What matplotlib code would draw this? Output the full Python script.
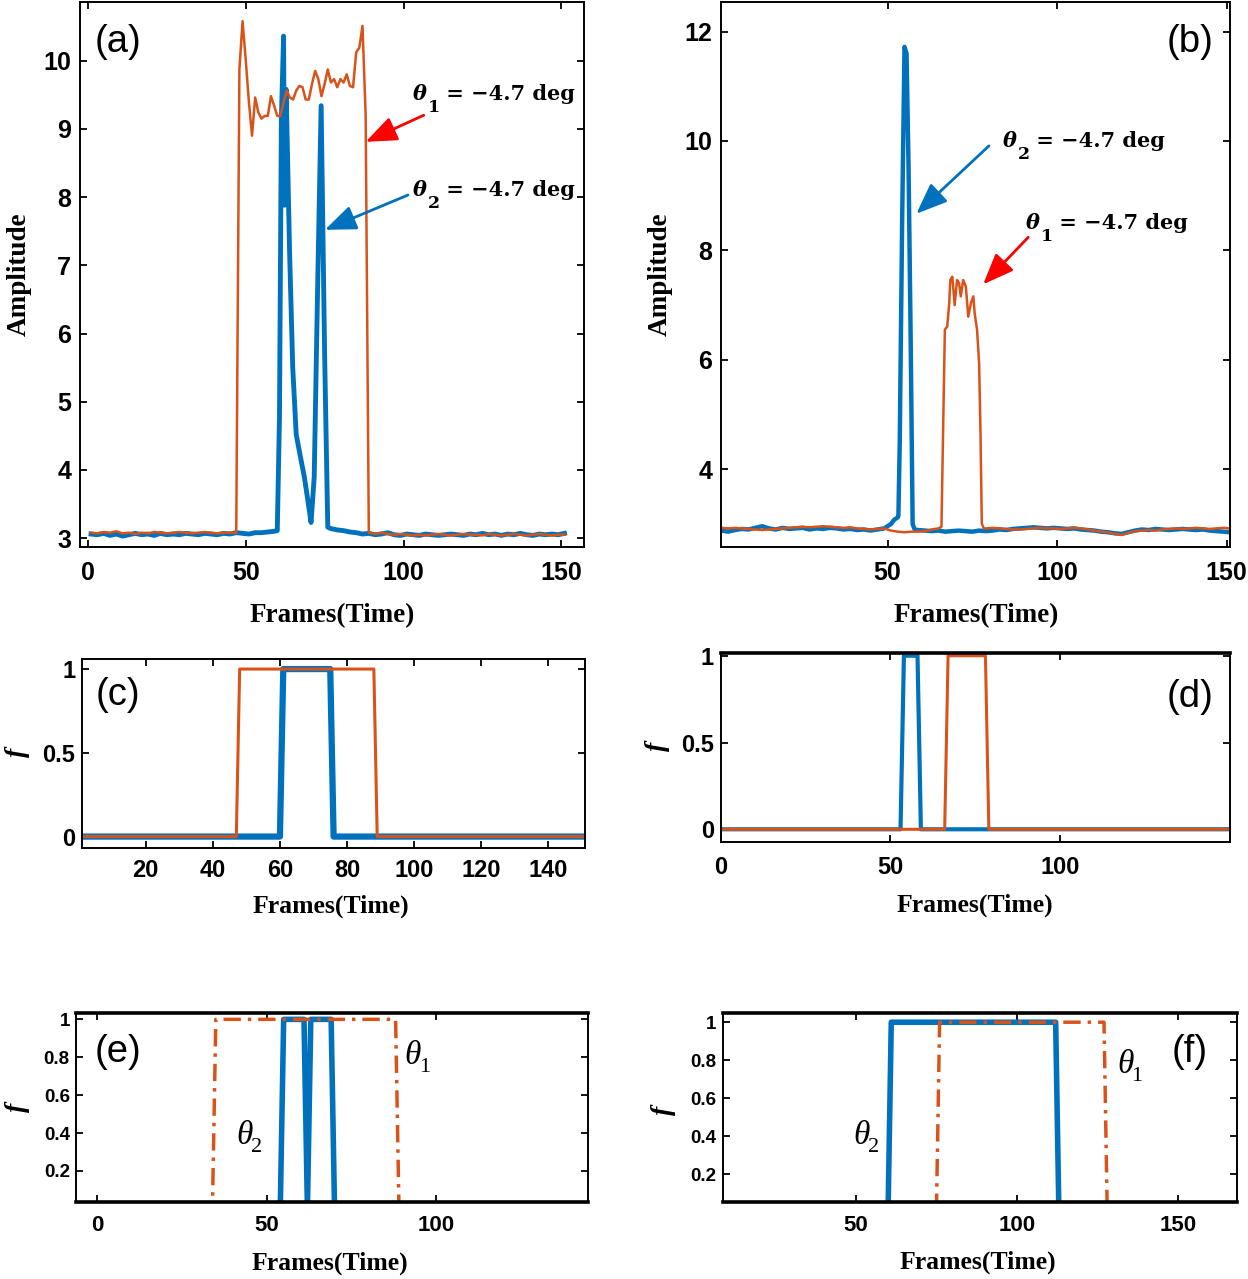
import matplotlib
matplotlib.use("Agg")
import matplotlib.pyplot as plt
from matplotlib.transforms import offset_copy

plt.rcParams.update({
    "font.family": ["Liberation Sans", "DejaVu Sans"],
    "font.weight": "bold",
})

BLUE = "#0072BD"
ORANGE = "#D95319"

# ---------------- data: panel (a) ----------------
a_blue_pre = [3.06, 3.05, 3.07, 3.04, 3.06, 3.03, 3.05, 3.07, 3.05, 3.06, 3.04, 3.07, 3.05, 3.06, 3.05,
              3.07, 3.06, 3.05, 3.07, 3.06, 3.05, 3.07, 3.06, 3.08, 3.07, 3.06, 3.08, 3.08, 3.09, 3.10]  # frames 1..59 step 2
a_blue_evt_x = [60, 60.7, 61.3, 62.0, 62.3, 62.8, 63.9, 64.9, 66.0, 67.3, 68.6, 69.7, 70.7, 71.7, 72.8, 73.9, 75.0, 76.0]
a_blue_evt_y = [3.11, 4.77, 9.15, 10.36, 7.88, 9.58, 7.20, 5.50, 4.52, 4.20, 3.89, 3.55, 3.23, 3.89, 6.71, 9.34, 5.70, 3.16]
a_blue_post = [3.14, 3.12, 3.11, 3.09, 3.08, 3.06, 3.07, 3.05, 3.06, 3.08, 3.05, 3.04, 3.06, 3.05, 3.04, 3.06,
               3.05, 3.04, 3.05, 3.06, 3.05, 3.04, 3.06, 3.05, 3.07, 3.05, 3.06, 3.04, 3.06, 3.05, 3.07, 3.05,
               3.04, 3.06, 3.05, 3.06, 3.05, 3.07]  # frames 77..151 step 2
a_orange_pre = [3.08, 3.07, 3.09, 3.08, 3.10, 3.07, 3.08, 3.06, 3.08, 3.07, 3.09, 3.08, 3.07, 3.08, 3.09,
                3.08, 3.07, 3.08, 3.09, 3.08, 3.07, 3.08, 3.08, 3.08]  # frames 1..47 step 2
a_orange_evt = [9.87, 10.58, 10.02, 9.40, 8.90, 9.46, 9.24, 9.15, 9.19, 9.19, 9.48, 9.34, 9.19, 9.19,
                9.39, 9.56, 9.46, 9.43, 9.56, 9.63, 9.61, 9.43, 9.43, 9.66, 9.85, 9.73, 9.48, 9.66,
                9.87, 9.68, 9.73, 9.61, 9.73, 9.68, 9.80, 9.63, 9.61, 10.12, 10.19, 10.51, 9.20, 3.08]  # frames 48..89
a_orange_post = [3.06, 3.08, 3.06, 3.05, 3.06, 3.05, 3.04, 3.05, 3.04, 3.05, 3.06, 3.05, 3.04, 3.05, 3.06,
                 3.05, 3.05, 3.04, 3.06, 3.05, 3.04, 3.05, 3.06, 3.05, 3.04, 3.05, 3.06, 3.05, 3.04, 3.05, 3.05]  # 91..151 step 2

# ---------------- data: panel (b) ----------------
b_blue_pre = [2.88, 2.86, 2.89, 2.91, 2.90, 2.93, 2.96, 2.92, 2.90, 2.93, 2.91, 2.92, 2.93, 2.90, 2.92,
              2.91, 2.93, 2.92, 2.90, 2.91, 2.89, 2.90, 2.88, 2.90, 2.92]  # frames 1..49 step 2
b_blue_evt_x = [51, 52, 53, 53.2, 53.6, 54.3, 55.0, 55.6, 56.2, 56.8, 57.4, 58.0]
b_blue_evt_y = [3.00, 3.08, 3.12, 3.15, 4.50, 8.50, 11.72, 11.60, 9.50, 6.50, 3.00, 2.90]
b_blue_post = [2.89, 2.88, 2.87, 2.88, 2.86, 2.87, 2.88, 2.87, 2.86, 2.88,
               2.87, 2.88, 2.90, 2.89, 2.91, 2.92, 2.93, 2.94, 2.93, 2.92, 2.93,
               2.92, 2.91, 2.92, 2.90, 2.89, 2.88, 2.86, 2.85, 2.83, 2.82, 2.85,
               2.88, 2.90, 2.89, 2.91, 2.90, 2.89, 2.90, 2.91, 2.90, 2.89, 2.90, 2.88, 2.87, 2.86, 2.85]  # 59..151 step 2
b_orange_pre = [2.93, 2.92, 2.93, 2.92, 2.91, 2.90, 2.89, 2.90, 2.91, 2.92,
                2.93, 2.94, 2.95, 2.94, 2.95, 2.96, 2.95, 2.94, 2.93, 2.94,
                2.92, 2.91, 2.90, 2.91, 2.92, 2.88, 2.86, 2.85, 2.86, 2.86, 2.87, 2.90, 2.92]  # frames 1..65 step 2
b_orange_evt_x = [65.9, 66.9, 67.6, 68.2, 68.5, 69.1, 69.8, 70.5, 71.1, 71.6, 72.3, 73.1, 73.8, 74.6,
                  75.3, 75.7, 76.4, 77.0, 77.4, 77.8, 78.4]
b_orange_evt_y = [2.95, 6.55, 6.61, 7.04, 7.46, 7.52, 7.00, 7.46, 7.40, 7.16, 7.46, 7.34, 6.79, 7.04,
                  7.16, 6.85, 6.55, 5.94, 4.72, 3.01, 2.92]
b_orange_post = [2.92, 2.93, 2.92, 2.91, 2.90, 2.90,
                 2.91, 2.92, 2.93, 2.92, 2.92, 2.91, 2.92, 2.93, 2.92, 2.90, 2.88,
                 2.86, 2.85, 2.82, 2.80, 2.84,
                 2.87, 2.88, 2.89, 2.88, 2.90, 2.91, 2.92, 2.91, 2.92, 2.93, 2.92, 2.91, 2.92, 2.93, 2.92]  # 79..151 step 2

# ---------------- data: panels (c)-(f), step flags ----------------
c_blue_x = [1, 60, 61, 75, 76, 151]
c_blue_y = [0, 0, 1, 1, 0, 0]
c_orange_x = [1, 47, 48, 88, 89, 151]
c_orange_y = [0, 0, 1, 1, 0, 0]

d_blue_x = [0, 53, 54, 58, 59, 150]
d_blue_y = [0, 0, 1, 1, 0, 0]
d_orange_x = [0, 66, 67, 78, 79, 150]
d_orange_y = [0, 0, 1, 1, 0, 0]

e_blue_x = [0, 54, 55, 61, 62, 63, 69, 70, 150]
e_blue_y = [0, 0, 1, 1, 0, 1, 1, 0, 0]
e_orange_x = [0, 34, 35, 88, 89, 150]
e_orange_y = [0, 0, 1, 1, 0, 0]

f_blue_x = [0, 60, 61, 112, 113, 168]
f_blue_y = [0, 0, 1, 1, 0, 0]
f_orange_x = [0, 75, 76, 127, 128, 168]
f_orange_y = [0, 0, 1, 1, 0, 0]

# ticks
a_xticks = [0, 50, 100, 150]
a_yticks = [3, 4, 5, 6, 7, 8, 9, 10]
b_xticks = [50, 100, 150]
b_yticks = [4, 6, 8, 10, 12]
c_xticks = [20, 40, 60, 80, 100, 120, 140]
cd_yticks = [0, 0.5, 1]
cd_yticklabels = ["0", "0.5", "1"]
d_xticks = [0, 50, 100]
e_xticks = [0, 50, 100]
f_xticks = [50, 100, 150]
ef_yticks = [0.2, 0.4, 0.6, 0.8, 1]
ef_yticklabels = ["0.2", "0.4", "0.6", "0.8", "1"]

angle_text = " = \u22124.7 deg"


def build(pre, start_pre, evt_x, evt_y, post, start_post, step=2):
    x = list(range(start_pre, start_pre + step * len(pre), step)) + list(evt_x) + \
        list(range(start_post, start_post + step * len(post), step))
    y = list(pre) + list(evt_y) + list(post)
    return x, y


W, H = 1248, 1279
fig = plt.figure(figsize=(W / 100, H / 100), dpi=100)
renderer = fig.canvas.get_renderer()


def add_axes(l, t, r, b):
    return fig.add_axes([l / W, 1 - b / H, (r - l) / W, (b - t) / H])


def style(ax, xt, yt, xsize, ysize, xpad, ypad, ylabels=None, spine_lw=1.4):
    ax.set_xticks(xt)
    ax.set_yticks(yt)
    if ylabels is not None:
        ax.set_yticklabels(ylabels)
    ax.tick_params(direction="in", top=True, right=True, length=5, width=1.3)
    ax.tick_params(axis="x", labelsize=xsize, pad=xpad)
    ax.tick_params(axis="y", labelsize=ysize, pad=ypad)
    for s in ax.spines.values():
        s.set_linewidth(spine_lw)


def ftext(x, y, s, **kw):
    fig.text(x / W, 1 - y / H, s, ha="center", va="center", **kw)


def theta_text(ax, x, y, sub, rest, size, subsize, drop_px, fam, weight, sub_dx=1.0, rest_dx=0.0):
    """theta glyph, lowered subscript, then remaining text (all real text)."""
    t = ax.text(x, y, "\u03b8", fontsize=size, family=fam, weight=weight, style="italic",
                ha="left", va="baseline")
    w1 = t.get_window_extent(renderer).width
    tr = offset_copy(ax.transData, fig=fig, x=w1 + sub_dx, y=-drop_px, units="dots")
    s = ax.text(x, y, sub, fontsize=subsize, family=fam, weight=weight, ha="left", va="baseline",
                transform=tr)
    if rest:
        w2 = s.get_window_extent(renderer).width
        tr2 = offset_copy(ax.transData, fig=fig, x=w1 + sub_dx + w2 + rest_dx, y=0, units="dots")
        ax.text(x, y, rest, fontsize=size, family=fam, weight=weight, ha="left", va="baseline",
                transform=tr2)


serif_b = dict(family="Liberation Serif", weight="bold")
arrow_kw = dict(arrowstyle="-|>,head_length=0.95,head_width=0.38", lw=2.0, shrinkA=0, shrinkB=0,
                mutation_scale=20)

# ---------------- (a) ----------------
axa = add_axes(80.3, 2, 584.4, 547)
x, y = build(a_blue_pre, 1, a_blue_evt_x, a_blue_evt_y, a_blue_post, 77)
axa.plot(x, y, color=BLUE, lw=3.5)
x, y = build(a_orange_pre, 1, list(range(48, 48 + len(a_orange_evt))), a_orange_evt, a_orange_post, 91)
axa.plot(x, y, color=ORANGE, lw=1.8)
axa.set_xlim(-2.4, 157.3)
axa.set_ylim(2.87, 10.86)
style(axa, a_xticks, a_yticks, 18, 18, 10, 6.5)
axa.annotate("", xy=(88.0, 8.81), xytext=(106.4, 9.2), arrowprops=dict(color="red", **arrow_kw))
axa.annotate("", xy=(75.1, 7.52), xytext=(101.4, 8.03), arrowprops=dict(color=BLUE, **arrow_kw))
theta_text(axa, 103, 9.42, "1", angle_text, 15, 12.5, 12, "DejaVu Serif", "bold", rest_dx=-1)
theta_text(axa, 103, 8.01, "2", angle_text, 15, 12.5, 12, "DejaVu Serif", "bold", rest_dx=-1)

# ---------------- (b) ----------------
axb = add_axes(721.4, 2, 1230, 547)
x, y = build(b_blue_pre, 1, b_blue_evt_x, b_blue_evt_y, b_blue_post, 59)
axb.plot(x, y, color=BLUE, lw=3.2)
x, y = build(b_orange_pre, 1, b_orange_evt_x, b_orange_evt_y, b_orange_post, 79)
axb.plot(x, y, color=ORANGE, lw=1.8)
axb.set_xlim(1, 151)
axb.set_ylim(2.58, 12.54)
style(axb, b_xticks, b_yticks, 18, 18, 10, 6.5)
axb.annotate("", xy=(58.5, 8.67), xytext=(79.9, 9.91), arrowprops=dict(color=BLUE, **arrow_kw))
axb.annotate("", xy=(78.2, 7.38), xytext=(91.5, 8.24), arrowprops=dict(color="red", **arrow_kw))
theta_text(axb, 84.1, 9.89, "2", angle_text, 15, 12.5, 12, "DejaVu Serif", "bold", rest_dx=-1)
theta_text(axb, 90.7, 8.40, "1", angle_text, 15, 12.5, 12, "DejaVu Serif", "bold", rest_dx=-1)

# ---------------- (c) ----------------
axc = add_axes(82, 659, 585.2, 848.3)
axc.plot(c_blue_x, c_blue_y, color=BLUE, lw=4.5)
axc.plot(c_orange_x, c_orange_y, color=ORANGE, lw=2.2)
axc.set_xlim(1, 151)
axc.set_ylim(-0.07, 1.06)
style(axc, c_xticks, cd_yticks, 17, 17, 8, 4.7, cd_yticklabels)

# ---------------- (d) ----------------
axd = add_axes(720.5, 653.3, 1230, 842.3)
axd.plot(d_blue_x, d_blue_y, color=BLUE, lw=3.0)
axd.plot(d_orange_x, d_orange_y, color=ORANGE, lw=2.2)
axd.set_xlim(0, 150)
axd.set_ylim(-0.075, 1.014)
style(axd, d_xticks, cd_yticks, 17, 17, 10, 4.7, cd_yticklabels)
axd.spines["top"].set_linewidth(2.6)

# ---------------- (e) ----------------
axe = add_axes(76.4, 1013.3, 587.6, 1202)
axe.plot(e_blue_x, e_blue_y, color=BLUE, lw=4.0)
axe.plot(e_orange_x, e_orange_y, color=ORANGE, lw=2.5, linestyle=(0, (5, 2, 1, 2)))
axe.set_xlim(-6.1, 144.6)
axe.set_ylim(0.036, 1.032)
style(axe, e_xticks, ef_yticks, 16, 13.5, 9.5, 4.7, ef_yticklabels)
axe.spines["top"].set_linewidth(2.6)
axe.spines["bottom"].set_linewidth(2.6)
theta_text(axe, 41.1, 0.342, "2", "", 24, 16, 8, "Liberation Serif", "normal", sub_dx=-2)
theta_text(axe, 90.6, 0.764, "1", "", 24, 16, 8, "Liberation Serif", "normal", sub_dx=-2)

# ---------------- (f) ----------------
axf = add_axes(723, 1012.7, 1236.5, 1202)
axf.plot(f_blue_x, f_blue_y, color=BLUE, lw=4.0)
axf.plot(f_orange_x, f_orange_y, color=ORANGE, lw=2.5, linestyle=(0, (5, 2, 1, 2)))
axf.set_xlim(8.8, 168.1)
axf.set_ylim(0.054, 1.05)
style(axf, f_xticks, ef_yticks, 16, 13.5, 9.5, 4.7, ef_yticklabels)
axf.spines["top"].set_linewidth(2.6)
axf.spines["bottom"].set_linewidth(2.6)
theta_text(axf, 49.4, 0.359, "2", "", 24, 16, 8, "Liberation Serif", "normal", sub_dx=-2)
theta_text(axf, 131.0, 0.731, "1", "", 24, 16, 8, "Liberation Serif", "normal", sub_dx=-2)

# ---------------- axis labels ----------------
ftext(19, 274, "Amplitude", rotation=90, fontsize=19.5, **serif_b)
ftext(660, 274, "Amplitude", rotation=90, fontsize=19.5, **serif_b)
ftext(332, 616, "Frames(Time)", fontsize=19.5, **serif_b)
ftext(976, 616, "Frames(Time)", fontsize=19.5, **serif_b)
ftext(331, 906.7, "Frames(Time)", fontsize=18.5, **serif_b)
ftext(975, 905, "Frames(Time)", fontsize=18.5, **serif_b)
ftext(330, 1263, "Frames(Time)", fontsize=18.5, **serif_b)
ftext(978, 1262, "Frames(Time)", fontsize=18.5, **serif_b)
for (fx, fy) in [(18, 752), (657, 746), (18, 1107), (663, 1110)]:
    ftext(fx, fy, "f", rotation=90, fontsize=20, family="Liberation Serif", weight="bold", style="italic")

# ---------------- panel labels ----------------
for (px, py, s) in [(117.6, 41.8, "(a)"), (1190, 41.8, "(b)"), (117.5, 695, "(c)"),
                    (1190, 697, "(d)"), (118, 1052, "(e)"), (1190, 1052, "(f)")]:
    ftext(px, py, s, fontsize=27.5, family="Liberation Sans", weight="normal")

fig.savefig("out.png", dpi=100)
